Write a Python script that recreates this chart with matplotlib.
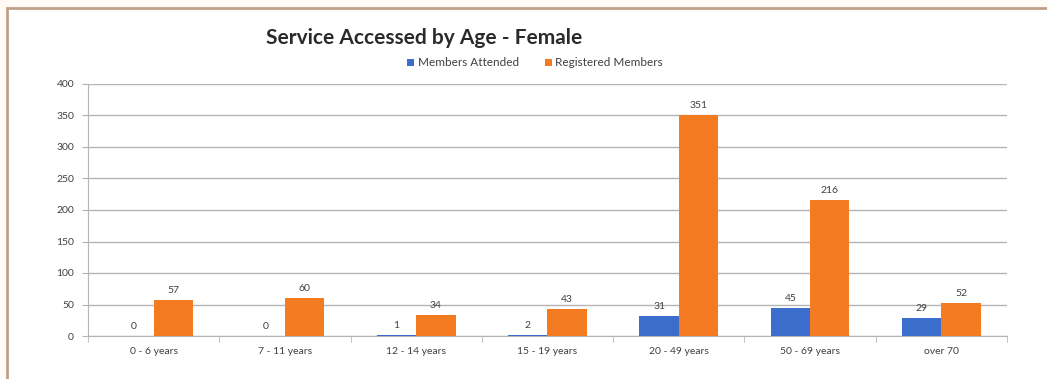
import matplotlib
matplotlib.use("Agg")
from matplotlib import pyplot as plt
from matplotlib.patches import Rectangle
import numpy as np

# Age groups and counts
age_groups = ["0 - 6 years", "7 - 11 years", "12 - 14 years", "15 - 19 years",
              "20 - 49 years", "50 - 69 years", "over 70"]
attended = [0, 0, 1, 2, 31, 45, 29]
registered = [57, 60, 34, 43, 351, 216, 52]

blue = "#3b6dcc"
orange = "#f47b22"

plt.rcParams["font.family"] = ["Lato", "DejaVu Sans"]

fig = plt.figure(figsize=(10.47, 3.79), dpi=100)
fig.patch.set_facecolor("#fffaf4")

# page frame, kept behind the axes
frame = Rectangle((7 / 1047, -0.05), 1.1, (379 - 8) / 379 + 0.05,
                  transform=fig.transFigure, facecolor="white",
                  edgecolor="#c2a088", linewidth=2.0, zorder=-5)
fig.patches.append(frame)

ax = fig.add_axes([88 / 1047, 1 - 336 / 379, (1007 - 88) / 1047, (336 - 84) / 379])
ax.set_facecolor("white")
ax.set_zorder(1)

x = np.arange(len(age_groups))
width = 0.3
b1 = ax.bar(x - width / 2, attended, width, color=blue, zorder=3)
b2 = ax.bar(x + width / 2, registered, width, color=orange, zorder=3)

for bars, vals in ((b1, attended), (b2, registered)):
    for bar, v in zip(bars, vals):
        ax.text(bar.get_x() + bar.get_width() / 2, v + 8, str(v),
                ha="center", va="bottom", fontsize=7.5, color="#404040")

ax.set_xlim(-0.5, len(age_groups) - 0.5)
ax.set_ylim(0, 400)
ax.set_yticks(range(0, 401, 50))
ax.yaxis.grid(True, color="#b5b5b5", linewidth=1.0, zorder=0)
ax.set_axisbelow(True)

ax.set_xticks(x)
ax.set_xticklabels(age_groups)
ax.set_xticks(np.arange(-0.5, len(age_groups)), minor=True)
ax.tick_params(axis="x", which="major", length=0, labelsize=7.5,
               labelcolor="#404040", pad=8)
ax.tick_params(axis="x", which="minor", length=4, color="#b5b5b5")
ax.tick_params(axis="y", length=4, color="#b5b5b5", labelsize=7.5,
               labelcolor="#404040", pad=6)

for side in ("top", "right"):
    ax.spines[side].set_visible(False)
ax.spines["left"].set_color("#b5b5b5")
ax.spines["bottom"].set_color("#b5b5b5")

fig.text(424 / 1047, 1 - 38 / 379, "Service Accessed by Age - Female",
         ha="center", va="center", fontsize=15, fontweight="bold", color="#2a2a2a")

ax.legend([b1, b2], ["Members Attended", "Registered Members"],
          loc="center", bbox_to_anchor=(535 / 1047, 1 - 63 / 379),
          bbox_transform=fig.transFigure, ncol=2, frameon=False,
          fontsize=8.5, handlelength=0.6, handleheight=0.6, handletextpad=0.3,
          columnspacing=2.2, labelcolor="#404040")

fig.savefig("out.png", dpi=100, facecolor=fig.get_facecolor())
